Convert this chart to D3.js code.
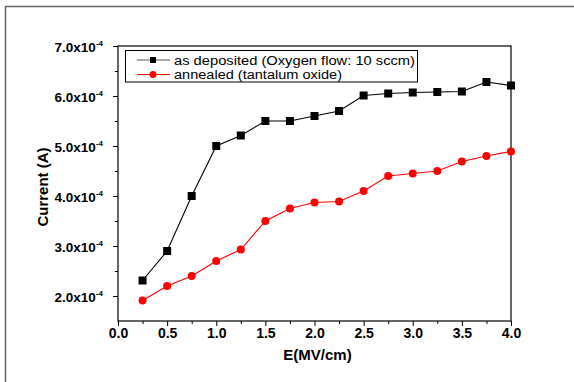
<!DOCTYPE html>
<html>
<head>
<meta charset="utf-8">
<script src="https://cdn.jsdelivr.net/npm/d3@7"></script>
<style>
  body { margin: 0; background: #fff; }
  svg { display: block; font-family: "Liberation Sans", Arial, sans-serif; }
</style>
</head>
<body>
<script>
// data
var fieldValues = [0.25, 0.5, 0.75, 1.0, 1.25, 1.5, 1.75, 2.0, 2.25, 2.5, 2.75, 3.0, 3.25, 3.5, 3.75, 4.0];
var asDeposited = [2.31e-4, 2.9e-4, 4.0e-4, 5.0e-4, 5.21e-4, 5.5e-4, 5.5e-4, 5.6e-4, 5.7e-4, 6.01e-4, 6.05e-4, 6.07e-4, 6.08e-4, 6.09e-4, 6.28e-4, 6.21e-4];
var annealed = [1.91e-4, 2.2e-4, 2.4e-4, 2.7e-4, 2.93e-4, 3.5e-4, 3.75e-4, 3.87e-4, 3.89e-4, 4.1e-4, 4.4e-4, 4.45e-4, 4.5e-4, 4.69e-4, 4.8e-4, 4.89e-4];
var xTicks = [0, 0.5, 1.0, 1.5, 2.0, 2.5, 3.0, 3.5, 4.0];
var yTicks = [2.0e-4, 3.0e-4, 4.0e-4, 5.0e-4, 6.0e-4, 7.0e-4];
var seriesNames = ['as deposited (Oxygen flow: 10 sccm)', 'annealed (tantalum oxide)'];

var W = 574, H = 382,
  plot = {left: 118, right: 511, top: 46, bottom: 321};

var svg = d3.select('body').append('svg').attr('width', W).attr('height', H);

// outer frame, only top and left edges fall inside the picture
svg.append('rect').attr('x', 5.5).attr('y', 6.5).attr('width', 620).attr('height', 420)
  .attr('fill', 'none').attr('stroke', '#666').attr('stroke-width', 1.5);

var x = d3.scaleLinear().domain([0, 4]).range([plot.left, plot.right]);
var y = d3.scaleLinear().domain([1.5e-4, 7.0e-4]).range([plot.bottom, plot.top]);

// plot frame
svg.append('rect').attr('x', plot.left).attr('y', plot.top)
  .attr('width', plot.right - plot.left).attr('height', plot.bottom - plot.top)
  .attr('fill', 'none').attr('stroke', '#000').attr('stroke-width', 1.2);

// x axis: major + minor ticks
var xAxis = svg.append('g').attr('transform', 'translate(0,' + plot.bottom + ')');
xAxis.call(d3.axisBottom(x).tickValues(d3.range(0.25, 4, 0.5)).tickSize(3).tickFormat(''));
xAxis.call(function(g) {
  g.append('g').call(d3.axisBottom(x).tickValues(xTicks).tickSize(5).tickFormat(d3.format('.1f')));
});
xAxis.selectAll('.domain').remove();
xAxis.selectAll('line').attr('stroke', '#000').attr('stroke-width', 1);
xAxis.selectAll('text').attr('font-size', 14).attr('font-weight', 'bold').attr('fill', '#000')
  .attr('font-family', '"Liberation Sans", Arial, sans-serif').attr('y', 7).attr('dy', '0.71em');

// y axis: major + minor ticks
var yAxis = svg.append('g').attr('transform', 'translate(' + plot.left + ',0)');
yAxis.call(d3.axisLeft(y).tickValues(d3.range(2.5e-4, 7e-4, 1e-4)).tickSize(3).tickFormat(''));
var yMajor = yAxis.append('g').call(d3.axisLeft(y).tickValues(yTicks).tickSize(5).tickFormat(''));
yAxis.selectAll('.domain').remove();
yAxis.selectAll('line').attr('stroke', '#000').attr('stroke-width', 1);

yMajor.selectAll('.tick').each(function(d) {
  var t = d3.select(this).append('text').attr('x', -15).attr('y', 5)
    .attr('text-anchor', 'end').attr('fill', '#000')
    .attr('font-size', 13.5).attr('font-weight', 'bold')
    .attr('font-family', '"Liberation Sans", Arial, sans-serif');
  t.append('tspan').text((d * 1e4).toFixed(1) + 'x10');
  t.append('tspan').attr('font-size', 8).attr('dy', -6).text('-4');
});

// axis titles
svg.append('text').attr('x', (plot.left + plot.right) / 2 + 3).attr('y', 360)
  .attr('text-anchor', 'middle').attr('font-size', 15).attr('font-weight', 'bold').text('E(MV/cm)');
svg.append('text').attr('transform', 'translate(48,187) rotate(-90)')
  .attr('text-anchor', 'middle').attr('font-size', 15).attr('font-weight', 'bold').text('Current (A)');

// series
var seriesList = [
  {name: seriesNames[0], values: asDeposited, color: '#000', marker: 'square', labelWidth: 241},
  {name: seriesNames[1], values: annealed, color: '#ff0000', marker: 'circle', labelWidth: 168}
];

var line = d3.line().x(function(d) { return x(d[0]); }).y(function(d) { return y(d[1]); });

function drawMarker(g, kind, color, cx, cy) {
  if (kind === 'square') {
    g.append('rect').attr('x', cx - 4).attr('y', cy - 4).attr('width', 8).attr('height', 8).attr('fill', color);
  } else {
    g.append('circle').attr('cx', cx).attr('cy', cy).attr('r', 4).attr('fill', color);
  }
}

seriesList.forEach(function(s) {
  var pts = d3.zip(fieldValues, s.values);
  var g = svg.append('g');
  g.append('path').datum(pts).attr('d', line).attr('fill', 'none')
    .attr('stroke', s.color).attr('stroke-width', 1.1);
  pts.forEach(function(p) { drawMarker(g, s.marker, s.color, x(p[0]), y(p[1])); });
});

// legend
var legend = svg.append('g');
legend.append('rect').attr('x', 125.5).attr('y', 50.5).attr('width', 292).attr('height', 31.5)
  .attr('fill', '#fff').attr('stroke', '#000').attr('stroke-width', 1);
seriesList.forEach(function(s, i) {
  var ly = 60 + i * 14.5;
  legend.append('line').attr('x1', 137).attr('x2', 170).attr('y1', ly).attr('y2', ly)
    .attr('stroke', i === 0 ? '#555' : s.color).attr('stroke-width', 1);
  if (s.marker === 'square') {
    legend.append('rect').attr('x', 150).attr('y', ly - 3).attr('width', 6).attr('height', 6).attr('fill', s.color);
  } else {
    legend.append('circle').attr('cx', 153).attr('cy', ly).attr('r', 3.5).attr('fill', s.color);
  }
  // reference glyphs are a little wider than tall, so stretch to its width
  legend.append('text').attr('x', 174).attr('y', ly + 4.5).attr('font-size', 12.5).attr('fill', '#000')
    .attr('textLength', s.labelWidth).attr('lengthAdjust', 'spacingAndGlyphs').text(s.name);
});
</script>
</body>
</html>
